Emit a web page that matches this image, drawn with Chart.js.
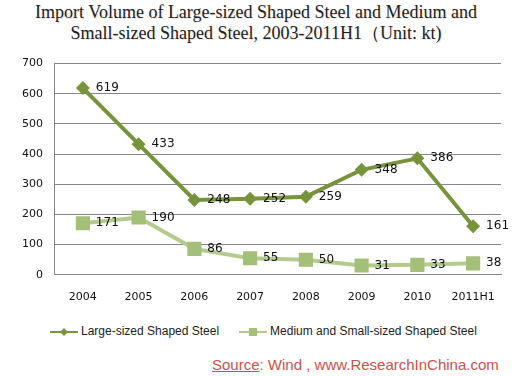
<!DOCTYPE html>
<html>
<head>
<meta charset="utf-8">
<script src="https://cdn.jsdelivr.net/npm/chart.js@4.4.0/dist/chart.umd.min.js"></script>
<style>
  body { margin: 0; background: #fff; width: 528px; height: 376px; overflow: hidden; position: relative; }
  .title { position: absolute; left: 0; top: 2px; width: 512px; text-align: center;
    font-family: "Liberation Serif", serif; font-size: 18px; line-height: 21px; color: #222;
    text-shadow: 1px 1px 1px #e2e2e2; }
  .wrap { position: absolute; left: 0; top: 45px; width: 520px; height: 275px; }
  .legend { position: absolute; top: 324px; left: 50px; font-family: "Liberation Sans", sans-serif;
    font-size: 12px; color: #222; white-space: nowrap; }
  .legend span.item { display: inline-block; margin-right: 20px; }
  .legend canvas { vertical-align: middle; margin-right: 3px; }
  .source { position: absolute; top: 356px; left: 212px; font-family: "Liberation Sans", sans-serif;
    font-size: 15px; color: #d0504a; }
  .source u { text-decoration: underline; }
</style>
</head>
<body>
<div class="title">Import Volume of Large-sized Shaped Steel and Medium and<br>Small-sized Shaped Steel, 2003-2011H1（Unit: kt)</div>
<div class="wrap"><canvas id="chart"></canvas></div>
<div class="legend" id="legend"></div>
<div class="source"><u>Source</u>: Wind , www.ResearchInChina.com</div>
<script>
const years = ["2004", "2005", "2006", "2007", "2008", "2009", "2010", "2011H1"];
const largeSteel = [619, 433, 248, 252, 259, 348, 386, 161];
const mediumSmallSteel = [171, 190, 86, 55, 50, 31, 33, 38];
const seriesNames = ["Large-sized Shaped Steel", "Medium and Small-sized Shaped Steel"];

const darkGreen = "#77933c";
const lightGreen = "#b3cc8e";

// value labels drawn to the right of each point
const valueLabels = {
  id: "valueLabels",
  afterDatasetsDraw(chart) {
    const ctx = chart.ctx;
    ctx.save();
    ctx.font = "12px 'DejaVu Sans', sans-serif";
    ctx.fillStyle = "#111";
    ctx.textBaseline = "middle";
    chart.data.datasets.forEach((ds, i) => {
      chart.getDatasetMeta(i).data.forEach((pt, j) => {
        ctx.fillText(ds.data[j], pt.x + 13, pt.y);
      });
    });
    ctx.restore();
  }
};

new Chart(document.getElementById("chart"), {
  type: "line",
  data: {
    labels: years,
    datasets: [
      {
        label: seriesNames[0],
        data: largeSteel,
        borderColor: darkGreen,
        backgroundColor: darkGreen,
        borderWidth: 4,
        pointStyle: "rectRot",
        pointRadius: 7,
        pointBorderWidth: 0,
        tension: 0
      },
      {
        label: seriesNames[1],
        data: mediumSmallSteel,
        borderColor: lightGreen,
        backgroundColor: "#a3bf78",
        borderWidth: 4,
        pointStyle: "rect",
        pointRadius: 10,
        pointBorderWidth: 0,
        tension: 0
      }
    ]
  },
  options: {
    responsive: true,
    maintainAspectRatio: false,
    animation: false,
    layout: { padding: { top: 2, left: 10, right: 19 } },
    plugins: { legend: { display: false }, tooltip: { enabled: false } },
    scales: {
      x: {
        offset: true,
        grid: { display: false, drawTicks: false },
        border: { color: "#868686" },
        ticks: { color: "#111", font: { family: "'DejaVu Sans', sans-serif", size: 11 }, padding: 16, maxRotation: 0 }
      },
      y: {
        min: 0,
        max: 700,
        grid: { color: "#868686", drawTicks: false },
        border: { color: "#868686" },
        ticks: { stepSize: 100, color: "#111", font: { family: "'DejaVu Sans', sans-serif", size: 11 }, padding: 12 }
      }
    }
  },
  plugins: [valueLabels]
});

// legend with line + marker swatches
const legend = document.getElementById("legend");
[[darkGreen, darkGreen, "diamond"], [lightGreen, "#a3bf78", "square"]].forEach((s, i) => {
  const item = document.createElement("span");
  item.className = "item";
  const c = document.createElement("canvas");
  c.width = 28; c.height = 12;
  const g = c.getContext("2d");
  g.strokeStyle = s[0]; g.lineWidth = 2;
  g.beginPath(); g.moveTo(0, 6); g.lineTo(28, 6); g.stroke();
  g.fillStyle = s[1];
  if (s[2] === "diamond") {
    g.beginPath(); g.moveTo(14, 2); g.lineTo(18, 6); g.lineTo(14, 10); g.lineTo(10, 6); g.closePath(); g.fill();
  } else {
    g.fillRect(10, 2, 8, 8);
  }
  item.appendChild(c);
  item.appendChild(document.createTextNode(seriesNames[i]));
  legend.appendChild(item);
});
</script>
</body>
</html>
